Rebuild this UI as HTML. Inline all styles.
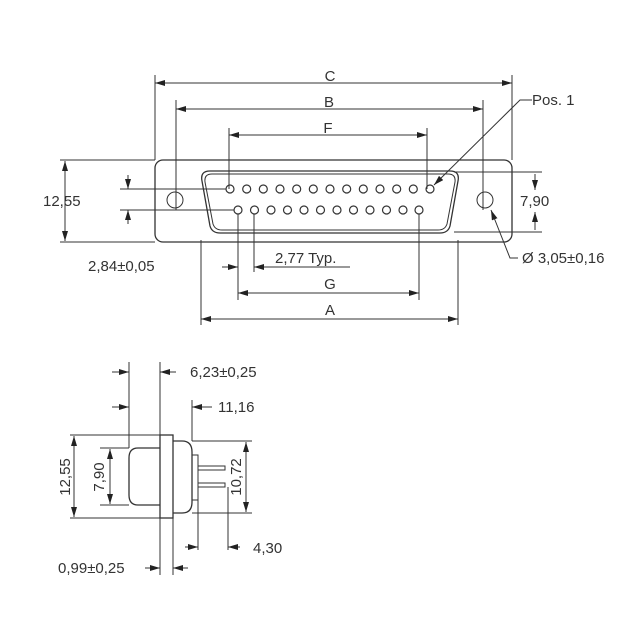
<!DOCTYPE html>
<html><head><style>body{margin:0;background:#fff}svg{display:block}text{font-family:"Liberation Sans",sans-serif;font-size:15px;fill:#333}</style></head><body>
<svg width="640" height="640" viewBox="0 0 640 640">
<defs><marker id="a" viewBox="0 0 10 6" refX="10" refY="3" markerWidth="10" markerHeight="6" orient="auto-start-reverse" markerUnits="userSpaceOnUse"><path d="M0,0L10,3L0,6z" fill="#222"/></marker></defs>
<g stroke="#333" stroke-width="1" fill="none">
<rect x="155" y="160" width="357" height="82" rx="8" stroke-width="1.3"/>
<circle cx="175" cy="200" r="8"/><circle cx="485" cy="200" r="8"/>
<path d="M210,171 H450 Q460,171 458,181 L450,226 Q448,233 440,233 H220 Q212,233 210,226 L202,181 Q200,171 210,171Z" stroke-width="1.3"/>
<path d="M212,174 H448 Q456,174 455,182 L447,224 Q445,230 438,230 H222 Q215,230 213,224 L205,182 Q204,174 212,174Z"/>
<g stroke-width="1.2">
<circle cx="230" cy="189" r="4"/><circle cx="246.7" cy="189" r="4"/><circle cx="263.3" cy="189" r="4"/><circle cx="280" cy="189" r="4"/><circle cx="296.7" cy="189" r="4"/><circle cx="313.3" cy="189" r="4"/><circle cx="330" cy="189" r="4"/><circle cx="346.7" cy="189" r="4"/><circle cx="363.3" cy="189" r="4"/><circle cx="380" cy="189" r="4"/><circle cx="396.7" cy="189" r="4"/><circle cx="413.3" cy="189" r="4"/><circle cx="430" cy="189" r="4"/>
<circle cx="238" cy="210" r="4"/><circle cx="254.5" cy="210" r="4"/><circle cx="271" cy="210" r="4"/><circle cx="287.5" cy="210" r="4"/><circle cx="304" cy="210" r="4"/><circle cx="320.5" cy="210" r="4"/><circle cx="337" cy="210" r="4"/><circle cx="353.5" cy="210" r="4"/><circle cx="370" cy="210" r="4"/><circle cx="386.5" cy="210" r="4"/><circle cx="403" cy="210" r="4"/><circle cx="419" cy="210" r="4"/>
</g>
<path d="M155,75V160M512,75V160M176,100V210M483,100V210M229,128V189M427,128V189M201,240V325M458,240V325M238,214V300M419,214V300M254,214V272M60,160H155M60,242H155M120,189H226M120,210H234M454,172H542M454,232H542"/>
<g marker-start="url(#a)" marker-end="url(#a)">
<path d="M155,83H512"/><path d="M176,109H483"/><path d="M229,135H427"/><path d="M201,319H458"/><path d="M238,293H419"/>
<path d="M65,161V241"/>
<path d="M74,436V517"/><path d="M110,449V504"/><path d="M246,442V512"/>
</g>
<g marker-end="url(#a)">
<path d="M128,175V189"/><path d="M128,224V210"/><path d="M535,174V190"/><path d="M535,230V212"/>
<path d="M222,267H238"/><path d="M350,267H254"/>
<path d="M532,100H520L434,185"/>
<path d="M518,258H510L491,210"/>
<path d="M112,372H129"/><path d="M176,372H160"/><path d="M112,407H129"/><path d="M212,407H192"/><path d="M185,547H198"/><path d="M240,547H228"/><path d="M145,568H160"/><path d="M188,568H173"/>
</g>
<rect x="160" y="435" width="13" height="83" stroke-width="1.3"/>
<path d="M160,448H138Q129,448 129,458V495Q129,505 138,505H160" stroke-width="1.3"/>
<path d="M173,441H182Q192,441 192,452V502Q192,513 182,513H173" stroke-width="1.3"/>
<rect x="192" y="455" width="6" height="45"/>
<path d="M198,466H225V470H198M198,483H225V487H198"/>
<path d="M129,362V448M160,362V435M173,500V575M160,518V575M192,400V441M198,500V550M228,487V550M70,435H160M70,518H160M100,448H129M100,505H129M192,441H252M192,513H252"/>
</g>
<text x="330" y="81" text-anchor="middle">C</text>
<text x="329" y="107" text-anchor="middle">B</text>
<text x="328" y="133" text-anchor="middle">F</text>
<text x="330" y="289" text-anchor="middle">G</text>
<text x="330" y="315" text-anchor="middle">A</text>
<text x="275" y="263">2,77 Typ.</text>
<text x="88" y="271">2,84±0,05</text>
<text x="43" y="206">12,55</text>
<rect x="518" y="191" width="38" height="18" fill="#fff"/>
<text x="520" y="206">7,90</text>
<text x="532" y="105">Pos. 1</text>
<text x="522" y="263">Ø 3,05±0,16</text>
<text x="190" y="377">6,23±0,25</text>
<text x="218" y="412">11,16</text>
<text x="253" y="553">4,30</text>
<text x="58" y="573">0,99±0,25</text>
<text transform="translate(70,477) rotate(-90)" text-anchor="middle">12,55</text>
<text transform="translate(104,477) rotate(-90)" text-anchor="middle">7,90</text>
<text transform="translate(241,477) rotate(-90)" text-anchor="middle">10,72</text>
</svg>
</body></html>
